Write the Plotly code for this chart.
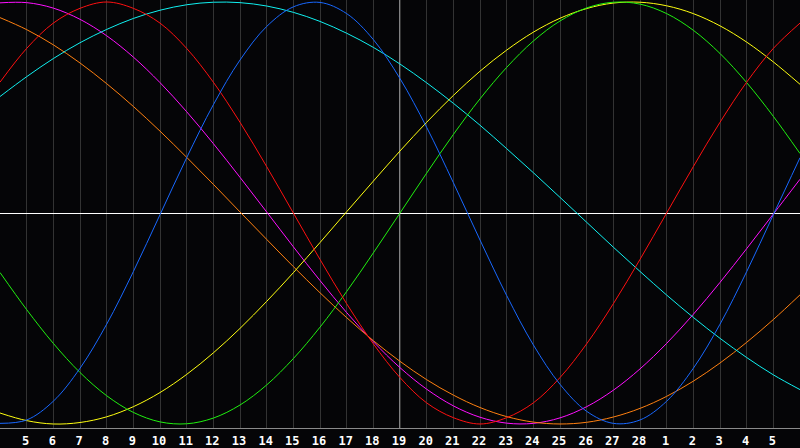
import plotly.graph_objects as go

# Day labels shown along the bottom (positions 1..29); positions 0 and 30 are the edges
day_labels = ["5", "6", "7", "8", "9", "10", "11", "12", "13", "14", "15", "16", "17",
              "18", "19", "20", "21", "22", "23", "24", "25", "26", "27", "28",
              "1", "2", "3", "4", "5"]
today_label = "19"

# x positions (day index, 0 = left edge, 30 = right edge)
x_days = list(range(31))

# Cycle values at each day position
red = [0.62, 0.78, 0.90, 0.97, 1.00, 0.97, 0.90, 0.78, 0.62, 0.43, 0.22, 0.00, -0.22,
       -0.43, -0.62, -0.78, -0.90, -0.97, -1.00, -0.97, -0.90, -0.78, -0.62, -0.43,
       -0.22, 0.00, 0.22, 0.43, 0.62, 0.78, 0.90]
blue = [-0.997, -0.981, -0.892, -0.736, -0.527, -0.278, -0.008, 0.262, 0.513, 0.725,
        0.884, 0.977, 0.998, 0.945, 0.822, 0.637, 0.406, 0.144, -0.128, -0.391, -0.625,
        -0.812, -0.940, -0.997, -0.981, -0.892, -0.736, -0.527, -0.278, -0.008, 0.262]
green = [-0.282, -0.458, -0.618, -0.756, -0.866, -0.945, -0.990, -0.999, -0.972, -0.910,
         -0.815, -0.690, -0.541, -0.372, -0.189, 0.000, 0.189, 0.372, 0.541, 0.690,
         0.815, 0.910, 0.972, 0.999, 0.990, 0.945, 0.866, 0.756, 0.618, 0.458, 0.282]
yellow = [-0.948, -0.984, -1.000, -0.993, -0.966, -0.918, -0.851, -0.765, -0.663, -0.547,
          -0.419, -0.283, -0.140, 0.006, 0.151, 0.294, 0.430, 0.557, 0.672, 0.772,
          0.857, 0.923, 0.969, 0.995, 0.999, 0.982, 0.945, 0.887, 0.810, 0.716, 0.610]
magenta = [0.996, 0.997, 0.971, 0.918, 0.840, 0.739, 0.618, 0.480, 0.329, 0.169, 0.005,
           -0.160, -0.320, -0.472, -0.610, -0.733, -0.835, -0.914, -0.968, -0.996,
           -0.997, -0.971, -0.918, -0.840, -0.739, -0.618, -0.480, -0.329, -0.169,
           -0.005, 0.160]
cyan = [0.552, 0.646, 0.732, 0.807, 0.870, 0.922, 0.961, 0.987, 0.999, 0.997, 0.981,
        0.951, 0.908, 0.852, 0.785, 0.706, 0.617, 0.520, 0.416, 0.305, 0.191, 0.074,
        -0.044, -0.162, -0.277, -0.389, -0.495, -0.594, -0.685, -0.767, -0.837]
orange = [0.926, 0.869, 0.797, 0.711, 0.613, 0.505, 0.388, 0.264, 0.136, 0.005, -0.125,
          -0.254, -0.378, -0.496, -0.605, -0.703, -0.790, -0.863, -0.922, -0.965, -0.991,
          -1.000, -0.992, -0.967, -0.926, -0.869, -0.797, -0.711, -0.613, -0.505, -0.388]

series = [
    ("Intuitive", magenta, "#ff10ff"),
    ("Awareness", orange, "#ff8010"),
    ("Spiritual", cyan, "#10f0f0"),
    ("Aesthetic", yellow, "#ffff10"),
    ("Intellectual", green, "#20f010"),
    ("Emotional", red, "#ff1010"),
    ("Physical", blue, "#1868ff"),
]

fig = go.Figure()
for name, vals, color in series:
    fig.add_trace(go.Scatter(
        x=x_days, y=vals, mode="lines", name=name,
        line=dict(color=color, width=1, shape="spline", smoothing=1.0),
        hoverinfo="skip",
    ))

tick_positions = list(range(1, len(day_labels) + 1))
today_pos = tick_positions[day_labels.index(today_label)]

fig.add_shape(type="line", xref="x", yref="paper", x0=today_pos, x1=today_pos,
              y0=0, y1=1, line=dict(color="#ffffff", width=1), layer="below")

fig.update_layout(
    width=800, height=448,
    margin=dict(l=0, r=0, t=0, b=20),
    paper_bgcolor="#050507",
    plot_bgcolor="#050507",
    showlegend=False,
    xaxis=dict(
        range=[0, 30],
        tickmode="array",
        tickvals=tick_positions,
        ticktext=day_labels,
        showgrid=True, gridcolor="#333333", gridwidth=1,
        zeroline=False,
        showline=True, linecolor="#8a8a8a", linewidth=1, mirror=True,
        ticks="",
        ticklabelshift=-1,
        ticklabelstandoff=2,
        tickfont=dict(family="DejaVu Sans Mono", size=12, color="#ffffff", weight="bold"),
        fixedrange=True,
    ),
    yaxis=dict(
        range=[-1.019, 1.0095],
        showgrid=False,
        zeroline=True, zerolinecolor="#ffffff", zerolinewidth=1,
        showticklabels=False,
        showline=True, linecolor="#8a8a8a", linewidth=1,
        ticks="",
        fixedrange=True,
    ),
)

fig.write_html(
    "out.html",
    config={"displayModeBar": False},
    post_script="document.body.style.margin='0';document.body.style.background='#050507';",
)
